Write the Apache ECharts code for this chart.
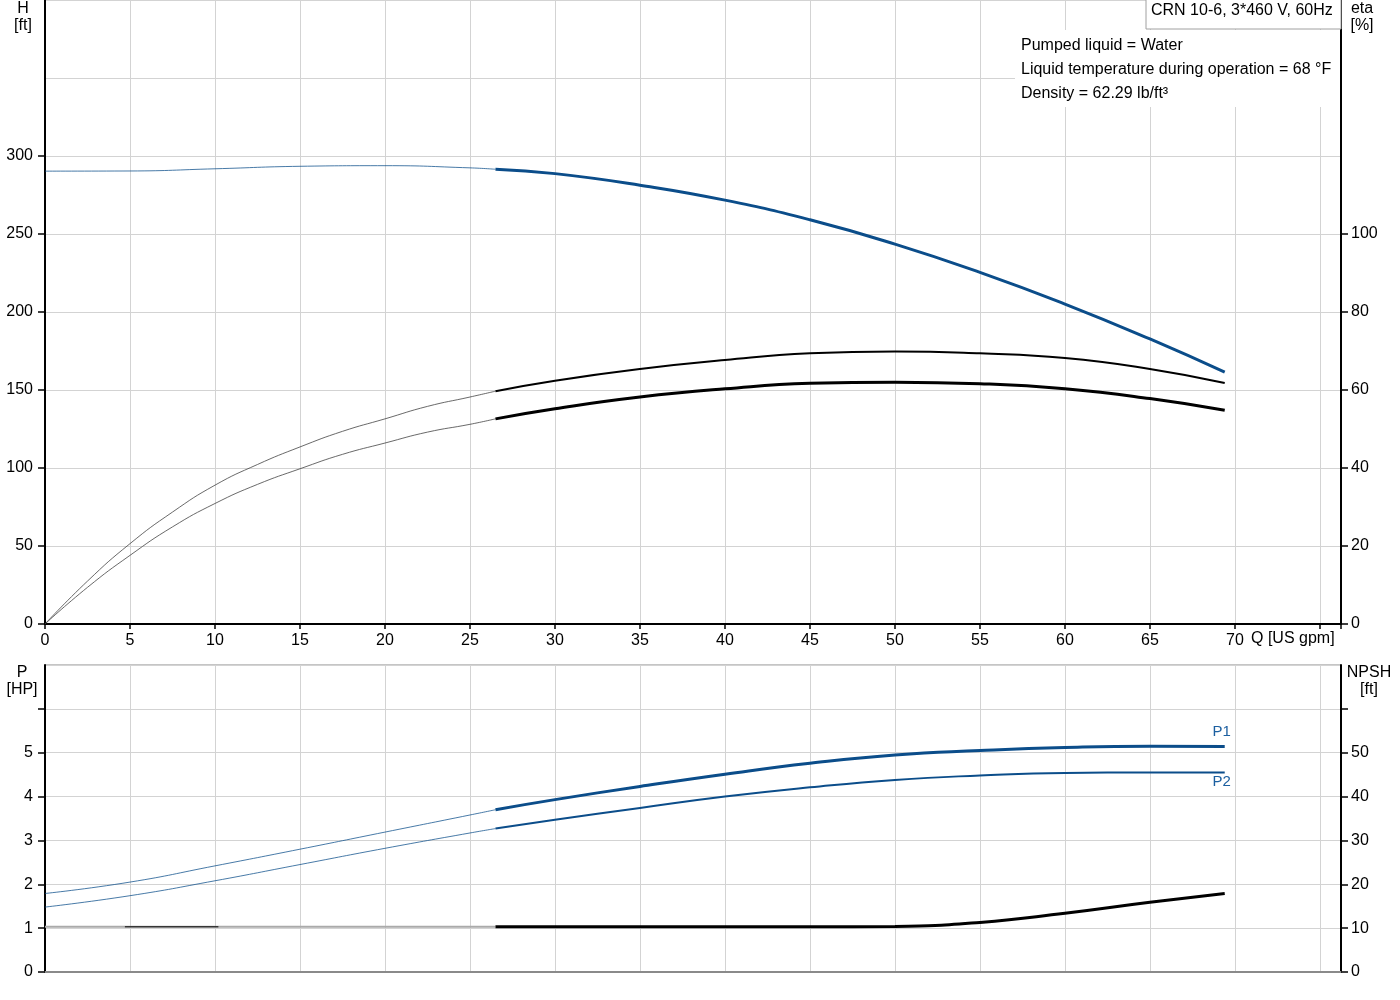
<!DOCTYPE html>
<html>
<head>
<meta charset="utf-8">
<script src="https://cdn.jsdelivr.net/npm/echarts@6/dist/echarts.min.js"></script>
<style>
html,body{margin:0;padding:0;background:#fff;}
#chart{width:1400px;height:1000px;}
</style>
</head>
<body>
<div id="chart"></div>
<script>
// ---------- data ----------
const titleText = 'CRN 10-6, 3*460 V, 60Hz';
const infoLines = ['Pumped liquid = Water', 'Liquid temperature during operation = 68 °F', 'Density = 62.29 lb/ft³'];

const xTickLabels = [0,5,10,15,20,25,30,35,40,45,50,55,60,65,70];
const hTickLabels = [0,50,100,150,200,250,300];
const etaTickLabels = [0,20,40,60,80,100];
const pTickLabels = [0,1,2,3,4,5];
const npshTickLabels = [0,10,20,30,40,50];

// Head H [ft]
const hThinQ  = [0, 5, 10, 15, 20, 25, 26.5];
const hThinV  = [290.3, 290.4, 291.8, 293.4, 293.8, 292.4, 291.5];
const hThickQ = [26.5, 30, 35, 40, 45, 50, 55, 60, 65, 69.4];
const hThickV = [291.5, 288.7, 281.3, 271.7, 259.1, 243.5, 225.4, 205.1, 182.7, 161.4];

// Efficiency eta [%] (upper curve)
const etaThinQ  = [0, 2.5, 5, 7.5, 10, 12.5, 15, 17.5, 20, 22.5, 25, 26.5];
const etaThinV  = [0, 11.0, 20.6, 28.7, 35.6, 40.9, 45.4, 49.4, 52.6, 55.8, 58.2, 59.7];
const etaThickQ = [26.5, 30, 35, 40, 45, 50, 55, 60, 65, 69.4];
const etaThickV = [59.7, 62.4, 65.4, 67.7, 69.4, 69.9, 69.4, 68.2, 65.4, 61.8];

// Efficiency eta total [%] (lower curve)
const eta2ThinQ  = [0, 2.5, 5, 7.5, 10, 12.5, 15, 17.5, 20, 22.5, 25, 26.5];
const eta2ThinV  = [0, 9.4, 17.6, 24.9, 30.9, 35.8, 39.8, 43.5, 46.4, 49.2, 51.2, 52.6];
const eta2ThickQ = [26.5, 30, 35, 40, 45, 50, 55, 60, 65, 69.4];
const eta2ThickV = [52.6, 55.2, 58.2, 60.3, 61.7, 62.0, 61.6, 60.3, 57.8, 54.8];

// Power P1 [HP]
const p1ThinQ  = [0, 5, 10, 15, 20, 25, 26.5];
const p1ThinV  = [1.79, 2.05, 2.42, 2.80, 3.19, 3.58, 3.70];
const p1ThickQ = [26.5, 30, 35, 40, 45, 50, 55, 60, 65, 69.4];
const p1ThickV = [3.70, 3.93, 4.23, 4.51, 4.76, 4.95, 5.05, 5.12, 5.15, 5.14];

// Power P2 [HP]
const p2ThinQ  = [0, 5, 10, 15, 20, 25, 26.5];
const p2ThinV  = [1.48, 1.74, 2.08, 2.45, 2.82, 3.17, 3.27];
const p2ThickQ = [26.5, 30, 35, 40, 45, 50, 55, 60, 65, 69.4];
const p2ThickV = [3.27, 3.47, 3.74, 4.00, 4.21, 4.38, 4.48, 4.54, 4.55, 4.55];

// NPSH [ft]
const npshThinQ  = [0, 26.5];
const npshThinV  = [10.3, 10.3];
const npshDarkQ  = [4.7, 10.2];
const npshDarkV  = [10.3, 10.3];
const npshThickQ = [26.5, 35, 45, 50, 55, 60, 65, 69.4];
const npshThickV = [10.3, 10.3, 10.3, 10.4, 11.3, 13.4, 15.9, 17.9];

// ---------- helpers ----------
const zip = (q, v) => q.map((x, i) => [x, v[i]]);
const BLUE = '#0b4d8a';
const GRID = '#d3d3d3';
const FONT = 'Liberation Sans, Arial, sans-serif';
const labelStyle = {color: '#000', fontSize: 16, fontFamily: FONT};

function line(name, q, v, xi, yi, color, width, extra) {
  return Object.assign({
    type: 'line', name: name, data: zip(q, v), xAxisIndex: xi, yAxisIndex: yi,
    showSymbol: false, symbol: 'none', smooth: 0.5,
    lineStyle: {color: color, width: width}, itemStyle: {color: color},
    emphasis: {disabled: true}, silent: true, animation: false
  }, extra || {});
}

const XMAX = 76.24;

const option = {
  animation: false,
  textStyle: {fontFamily: FONT},
  grid: [
    {left: 45, top: 0, width: 1296, height: 624},
    {left: 45, top: 665, width: 1296, height: 307, show: true, borderColor: '#8a8a8a', borderWidth: 1, backgroundColor: 'transparent'}
  ],
  xAxis: [
    {
      type: 'value', gridIndex: 0, min: 0, max: XMAX, interval: 5,
      axisLine: {show: true, onZero: false, lineStyle: {color: '#000', width: 2}},
      axisTick: {show: true, length: 5, lineStyle: {color: '#000', width: 1.5}},
      axisLabel: {...labelStyle, margin: 9,
        formatter: v => xTickLabels.includes(v) ? String(v) : ''},
      splitLine: {show: true, lineStyle: {color: GRID, width: 1}}
    },
    {
      type: 'value', gridIndex: 1, min: 0, max: XMAX, interval: 5,
      axisLine: {show: true, onZero: false, lineStyle: {color: '#8a8a8a', width: 2}},
      axisTick: {show: false},
      axisLabel: {show: false},
      splitLine: {show: true, lineStyle: {color: GRID, width: 1}}
    }
  ],
  yAxis: [
    { // 0: H
      type: 'value', gridIndex: 0, position: 'left', min: 0, max: 400, interval: 50,
      axisLine: {show: true, onZero: false, lineStyle: {color: '#000', width: 2}},
      axisTick: {show: false},
      axisLabel: {...labelStyle, margin: 12, formatter: v => hTickLabels.includes(v) ? String(v) : ''},
      splitLine: {show: true, lineStyle: {color: GRID, width: 1}}
    },
    { // 1: eta
      type: 'value', gridIndex: 0, position: 'right', min: 0, max: 160, interval: 20,
      axisLine: {show: true, onZero: false, lineStyle: {color: '#000', width: 2}},
      axisTick: {show: true, length: 7, customValues: etaTickLabels, lineStyle: {color: '#000', width: 1.5}},
      axisLabel: {...labelStyle, margin: 10, formatter: v => etaTickLabels.includes(v) ? String(v) : ''},
      splitLine: {show: false}
    },
    { // 2: H ticks only
      type: 'value', gridIndex: 0, position: 'left', min: 0, max: 400, interval: 50,
      axisLine: {show: false},
      axisTick: {show: true, length: 7, customValues: hTickLabels, lineStyle: {color: '#000', width: 1.5}},
      axisLabel: {show: false},
      splitLine: {show: false}
    },
    { // 3: P
      type: 'value', gridIndex: 1, position: 'left', min: 0, max: 7, interval: 1,
      axisLine: {show: true, onZero: false, lineStyle: {color: '#000', width: 2}},
      axisTick: {show: false},
      axisLabel: {...labelStyle, margin: 12, formatter: v => pTickLabels.includes(v) ? String(v) : ''},
      splitLine: {show: true, lineStyle: {color: GRID, width: 1}}
    },
    { // 4: NPSH
      type: 'value', gridIndex: 1, position: 'right', min: 0, max: 70, interval: 10,
      axisLine: {show: true, onZero: false, lineStyle: {color: '#000', width: 2}},
      axisTick: {show: true, length: 7, customValues: [0,10,20,30,40,50,60], lineStyle: {color: '#000', width: 1.5}},
      axisLabel: {...labelStyle, margin: 10, formatter: v => npshTickLabels.includes(v) ? String(v) : ''},
      splitLine: {show: false}
    },
    { // 5: P ticks only
      type: 'value', gridIndex: 1, position: 'left', min: 0, max: 7, interval: 1,
      axisLine: {show: false},
      axisTick: {show: true, length: 7, customValues: [0,1,2,3,4,5,6], lineStyle: {color: '#000', width: 1.5}},
      axisLabel: {show: false},
      splitLine: {show: false}
    }
  ],
  series: [
    line('H thin', hThinQ, hThinV, 0, 0, BLUE, 1, {lineStyle: {color: BLUE, width: 1, opacity: 0.75}}),
    line('H', hThickQ, hThickV, 0, 0, BLUE, 3),
    line('eta thin', etaThinQ, etaThinV, 0, 1, '#444', 1, {lineStyle: {color: '#444', width: 1, opacity: 0.8}}),
    line('eta', etaThickQ, etaThickV, 0, 1, '#000', 2),
    line('eta2 thin', eta2ThinQ, eta2ThinV, 0, 1, '#444', 1, {lineStyle: {color: '#444', width: 1, opacity: 0.8}}),
    line('eta2', eta2ThickQ, eta2ThickV, 0, 1, '#000', 3),
    line('P1 thin', p1ThinQ, p1ThinV, 1, 3, BLUE, 1, {lineStyle: {color: BLUE, width: 1, opacity: 0.75}}),
    line('P1', p1ThickQ, p1ThickV, 1, 3, BLUE, 3, {
      endLabel: {show: true, formatter: 'P1', color: '#1c5fa0', fontSize: 15, fontFamily: FONT,
        distance: 0, align: 'center', verticalAlign: 'middle', offset: [-3, -15]}
    }),
    line('P2 thin', p2ThinQ, p2ThinV, 1, 3, BLUE, 1, {lineStyle: {color: BLUE, width: 1, opacity: 0.75}}),
    line('P2', p2ThickQ, p2ThickV, 1, 3, BLUE, 2, {
      endLabel: {show: true, formatter: 'P2', color: '#1c5fa0', fontSize: 15, fontFamily: FONT,
        distance: 0, align: 'center', verticalAlign: 'middle', offset: [-3, 9]}
    }),
    line('NPSH thin', npshThinQ, npshThinV, 1, 4, '#999', 2, {smooth: false, lineStyle: {color: '#aaa', width: 2}}),
    line('NPSH thin dark', npshDarkQ, npshDarkV, 1, 4, '#000', 1, {smooth: false}),
    line('NPSH', npshThickQ, npshThickV, 1, 4, '#000', 3)
  ],
  graphic: [
    {type: 'text', x: 23, y: 0, style: {text: 'H\n[ft]', fill: '#000', font: '16px ' + FONT, align: 'center', lineHeight: 17}},
    {type: 'text', x: 1362, y: 0, style: {text: 'eta\n[%]', fill: '#000', font: '16px ' + FONT, align: 'center', lineHeight: 17}},
    {type: 'text', x: 22, y: 664, style: {text: 'P\n[HP]', fill: '#000', font: '16px ' + FONT, align: 'center', lineHeight: 17}},
    {type: 'text', x: 1369, y: 664, style: {text: 'NPSH\n[ft]', fill: '#000', font: '16px ' + FONT, align: 'center', lineHeight: 17}},
    {type: 'text', x: 1251, y: 631, style: {text: 'Q [US gpm]', fill: '#000', font: '16px ' + FONT}},
    {type: 'rect', x: 1015, y: 30, shape: {width: 325, height: 77}, style: {fill: '#fff'}, z: 50},
    {type: 'text', x: 1021, y: 34, z: 51, style: {text: infoLines.join('\n'), fill: '#000', font: '16px ' + FONT, lineHeight: 24}},
    {type: 'rect', x: 1146, y: -1, shape: {width: 195, height: 30}, style: {fill: '#fff', stroke: '#a0a0a0', lineWidth: 1}, z: 50},
    {type: 'text', x: 1151, y: 3, z: 51, style: {text: titleText, fill: '#000', font: '16px ' + FONT}}
  ]
};

const chart = echarts.init(document.getElementById('chart'), null, {renderer: 'canvas'});
chart.setOption(option);
</script>
</body>
</html>
